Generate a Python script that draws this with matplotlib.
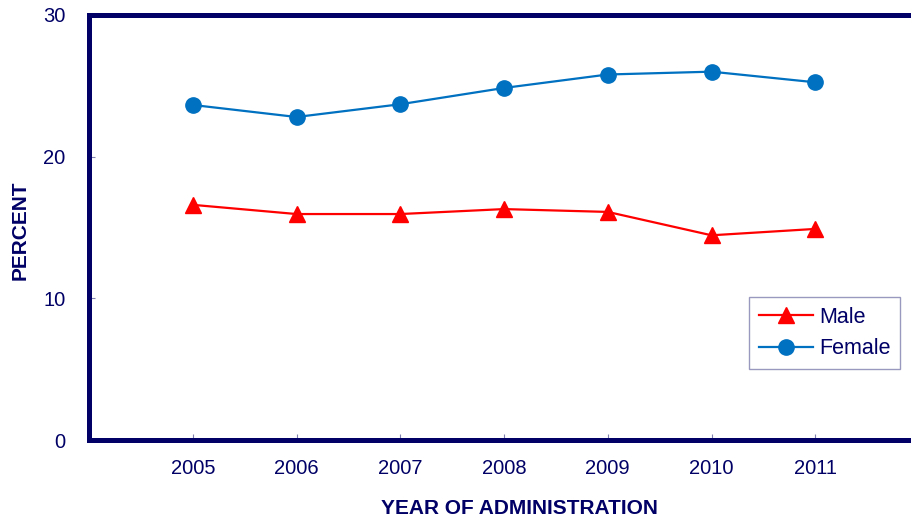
import matplotlib
matplotlib.use("Agg")
import matplotlib.pyplot as plt

years = [2005, 2006, 2007, 2008, 2009, 2010, 2011]
male = [16.6, 15.95, 15.95, 16.3, 16.1, 14.45, 14.9]
female = [23.65, 22.8, 23.7, 24.85, 25.8, 26.0, 25.25]
yticks = [0, 10, 20, 30]

navy = "#000066"
plt.rcParams['font.family'] = ['Liberation Sans', 'DejaVu Sans']

fig = plt.figure(figsize=(9.12, 5.21), dpi=100)
ax = fig.add_axes([89/912, 81/521, 830/912, 425/521])

ax.plot(years, male, color="#FF0000", lw=1.6, marker="^", ms=11, label="Male")
ax.plot(years, female, color="#0070C0", lw=1.6, marker="o", ms=11, label="Female")

ax.set_xlim(2004, 2012)
ax.set_ylim(0, 30)
ax.set_xticks(years)
ax.set_yticks(yticks)
ax.tick_params(axis='both', direction='in', colors="#8080b0", labelcolor=navy, labelsize=14.5, length=4)
ax.tick_params(axis='y', pad=17)
ax.tick_params(axis='x', pad=14)
for s in ['left', 'bottom', 'top']:
    ax.spines[s].set_linewidth(3.6)
    ax.spines[s].set_color(navy)
ax.spines['right'].set_visible(False)

ax.set_ylabel("PERCENT", fontsize=15, fontweight='bold', color=navy)
ax.set_xlabel("YEAR OF ADMINISTRATION", fontsize=15, fontweight='bold', color=navy)
ax.xaxis.set_label_coords(519/912, 1 - 508/521, transform=fig.transFigure)
ax.xaxis.label.set_va('center')
ax.yaxis.set_label_coords(20/912, 1 - 230/521, transform=fig.transFigure)
ax.yaxis.label.set_va('center')

leg = fig.legend(loc='upper left', bbox_to_anchor=(749/912, 1-297/521), borderaxespad=0,
                 fontsize=15.5, frameon=True, fancybox=False, handlelength=2.5,
                 labelspacing=0.5, borderpad=0.45, handletextpad=0.3)
leg.get_frame().set_edgecolor("#8080b0")
leg.get_frame().set_linewidth(1.0)
for t in leg.get_texts():
    t.set_color(navy)

fig.savefig("out.png", dpi=100)
